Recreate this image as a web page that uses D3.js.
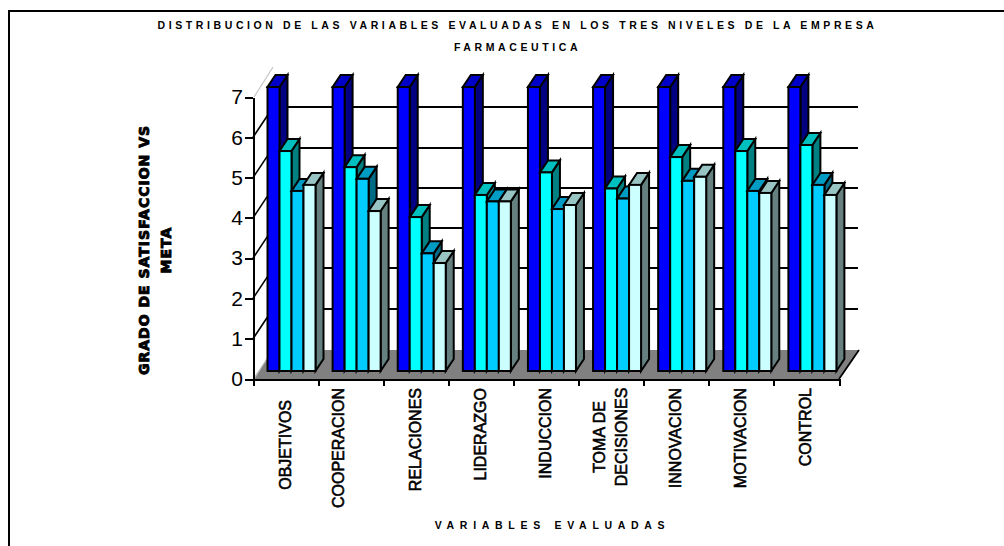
<!DOCTYPE html>
<html><head><meta charset="utf-8">
<script src="https://cdnjs.cloudflare.com/ajax/libs/d3/7.8.5/d3.min.js"></script>
<style>html,body{margin:0;background:#fff}svg{display:block}text{fill:#000;font-family:"Liberation Sans",Arial,sans-serif}</style>
</head><body><svg id="c" width="1004" height="546"></svg>
<script>
const categories=[["OBJETIVOS"],["COOPERACION"],["RELACIONES"],["LIDERAZGO"],["INDUCCION"],["TOMA DE","DECISIONES"],["INNOVACION"],["MOTIVACION"],["CONTROL"]];
const serie1=[7.05,7.05,7.05,7.05,7.05,7.05,7.05,7.05,7.05];
const serie2=[5.46,5.06,3.82,4.37,4.93,4.53,5.31,5.46,5.61];
const serie3=[4.47,4.77,2.92,4.21,4.02,4.28,4.72,4.47,4.62];
const serie4=[4.62,3.97,2.68,4.21,4.12,4.62,4.82,4.42,4.37];
const yTicks=[0,1,2,3,4,5,6,7];
const titleLines=["DISTRIBUCION DE LAS VARIABLES EVALUADAS EN LOS TRES NIVELES DE LA EMPRESA","FARMACEUTICA"];
const yTitleLines=["GRADO DE SATISFACCION VS","META"];
const xTitle="VARIABLES EVALUADAS";
const palettes=[
 {front:"#0000ff",top:"#0000c8",side:"#000080"},
 {front:"#00ffff",top:"#00bfbf",side:"#008080"},
 {front:"#00ccff",top:"#009cc4",side:"#006b85"},
 {front:"#ccffff",top:"#99c4c4",side:"#668080"}];
const seriesList=[serie1,serie2,serie3,serie4];

const svg=d3.select("#c");
const x=d3.scaleBand().domain(d3.range(categories.length)).range([253,839]);
const y=d3.scaleLinear().domain([0,7]).range([379,97]);
const depth={dx:20,dy:-30};
const bar={dx:8,dy:-12,inset:14.5,lift:-8,w:12};
const pts=a=>a.map(p=>p.join(",")).join(" ");

// outer rule: top and left edges only
svg.append("path").attr("d","M9,546V11H1004").attr("fill","none").attr("stroke","#000").attr("stroke-width",2);

// floor
svg.append("polygon").attr("points",pts([[253,y(0)],[839,y(0)],[839+depth.dx,y(0)+depth.dy+1],[253+depth.dx,y(0)+depth.dy+1]])).attr("fill","#808080");

// back wall gridlines and side wall slants
const inner=yTicks.filter(d=>d>0&&d<7);
svg.selectAll(".grid").data(inner).join("line")
 .attr("x1",253+depth.dx).attr("x2",839+depth.dx-1)
 .attr("y1",d=>y(d)+depth.dy).attr("y2",d=>y(d)+depth.dy)
 .attr("stroke","#000").attr("stroke-width",2).attr("shape-rendering","crispEdges");
svg.selectAll(".slant").data(inner).join("line")
 .attr("x1",253).attr("x2",253+depth.dx)
 .attr("y1",d=>y(d)).attr("y2",d=>y(d)+depth.dy)
 .attr("stroke","#000").attr("stroke-width",1.6);
[0,7].forEach(v=>svg.append("line").attr("x1",254).attr("x2",253+depth.dx).attr("y1",y(v)).attr("y2",y(v)+depth.dy).attr("stroke","#c4c4c4").attr("stroke-width",1.2));
svg.append("line").attr("x1",839).attr("x2",839+depth.dx).attr("y1",y(0)).attr("y2",y(0)+depth.dy+1).attr("stroke","#000").attr("stroke-width",1.8);

// bars: front, top and side faces, painted series by series
const applyS=s=>s.attr("stroke","#000").attr("stroke-width",2).attr("stroke-linejoin","miter");
categories.forEach((_,i)=>{
 const x0=x(i)+bar.inset;
 seriesList.forEach((vals,s)=>{
  const l=x0+s*bar.w,r=l+bar.w,b=y(0)+bar.lift,t=y(vals[i])+bar.lift,p=palettes[s];
  applyS(svg.append("polygon").attr("points",pts([[r,b],[r+bar.dx,b+bar.dy],[r+bar.dx,t+bar.dy],[r,t]])).attr("fill",p.side));
  applyS(svg.append("polygon").attr("points",pts([[l,t],[r,t],[r+bar.dx,t+bar.dy],[l+bar.dx,t+bar.dy]])).attr("fill",p.top));
  applyS(svg.append("rect").attr("x",l).attr("y",t).attr("width",bar.w).attr("height",b-t).attr("fill",p.front));
 });
});

// axes
const gy=svg.append("g").attr("transform","translate(253,0)")
 .call(d3.axisLeft(y).tickValues(yTicks).tickFormat(d3.format("d")).tickSize(8).tickSizeOuter(0).tickPadding(2));
gy.selectAll("text").attr("font-size",21);
const edges=x.domain().map(i=>x(i)).concat(x.range()[1]);
const edge=d3.scaleIdentity().domain([253,839]);
svg.append("g").attr("transform",`translate(0,${y(0)})`)
 .call(d3.axisBottom(edge).tickValues(edges).tickSize(7).tickSizeOuter(0).tickFormat(""));
svg.selectAll(".domain,.tick line").attr("stroke","#000").attr("stroke-width",2).attr("shape-rendering","crispEdges");

// category labels, rotated to read upward; a few sit off their default slot
const labelNudge={0:{along:12,across:0},1:{along:0,across:-12}};
categories.forEach((lines,i)=>{
 const n=labelNudge[i]||{along:0,across:0};
 const cx=x(i)+x.bandwidth()/2-1+n.across;
 const g=svg.append("g").attr("transform",`translate(${cx},${388+n.along}) rotate(-90)`);
 lines.forEach((ln,k)=>{
  const t=g.append("text").attr("font-size",16).attr("stroke","#000").attr("stroke-width",.6)
   .attr("y",(k-(lines.length-1)/2)*22+6).attr("text-anchor","middle").text(ln);
  t.attr("x",-(lines.length>1?49:t.node().getComputedTextLength()/2));
 });
});

// titles
titleLines.forEach((t,k)=>svg.append("text").attr("x",517.5).attr("y",29+k*22).attr("text-anchor","middle")
  .attr("font-size",10.5).attr("font-weight",700).attr("letter-spacing",3.6).text(t));
svg.append("text").attr("x",552.5).attr("y",529).attr("text-anchor","middle")
  .attr("font-size",10.5).attr("font-weight",700).attr("letter-spacing",5.7).text(xTitle);
yTitleLines.forEach((t,k)=>svg.append("text")
  .attr("transform",`translate(${149+k*22},250) rotate(-90)`).attr("text-anchor","middle")
  .style("font-family","DejaVu Sans").attr("font-size",14).attr("font-weight",700)
  .attr("letter-spacing",1).attr("stroke","#000").attr("stroke-width",.9).text(t));
</script></body></html>
